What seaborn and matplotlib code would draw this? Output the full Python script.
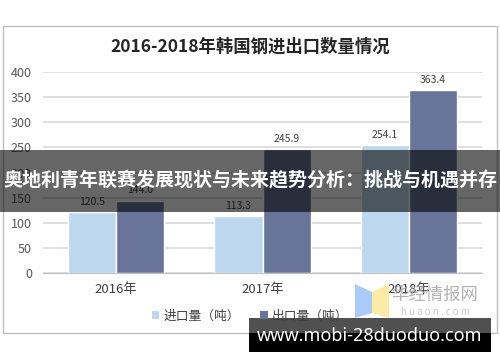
import matplotlib
matplotlib.use("Agg")
from matplotlib import pyplot as plt
from matplotlib.patches import Rectangle, Polygon, Patch
import seaborn as sns
import pandas as pd

years = ["2016年", "2017年", "2018年"]
series = ["进口量（吨）", "出口量（吨）"]
imports = [120.5, 113.3, 254.1]
exports = [144.0, 245.9, 363.4]
colors = ["#BDD7EE", "#687499"]

sns.set_style("white")
plt.rcParams["font.family"] = ["Noto Sans CJK SC", "DejaVu Sans"]

W, H = 500, 362


def fx(x):
    return x / W


def fy(y):
    return 1 - y / H


df = pd.DataFrame({
    "year": years * 2,
    "series": [series[0]] * 3 + [series[1]] * 3,
    "value": imports + exports,
})

fig = plt.figure(figsize=(5, 3.62), dpi=100)
fig.patch.set_facecolor("white")

# outer chart frame
fig.add_artist(Rectangle((fx(3), fy(333)), fx(494), 307 / H, transform=fig.transFigure,
                         fill=False, edgecolor="#BFBFBF", lw=1, zorder=0.5))

ax = fig.add_axes([fx(43), fy(273), fx(439), 201 / H])
sns.barplot(data=df, x="year", y="value", hue="series", palette=colors,
            width=0.66, gap=0, saturation=1, ax=ax, legend=False, zorder=2)

for cont in ax.containers:
    ax.bar_label(cont, padding=4, fontsize=7.5, color="#404040",
                 labels=[f"{v:.1f}" for v in cont.datavalues])

ax.set_ylim(0, 400)
ax.set_xlim(-0.5, 2.5)
ax.set_yticks(range(0, 401, 50))
ax.yaxis.grid(True, color="#D9D9D9", lw=1.2, zorder=0)
ax.set_axisbelow(True)
ax.set_xlabel("")
ax.set_ylabel("")
for s in ["top", "right", "left"]:
    ax.spines[s].set_visible(False)
ax.spines["bottom"].set_color("#BFBFBF")
ax.tick_params(axis="y", length=0, pad=8, labelsize=9, labelcolor="#595959")
ax.tick_params(axis="x", length=0, pad=7, labelsize=9.5, labelcolor="#404040")
ax.set_xticks([-0.5, 0.5, 1.5, 2.5], minor=True)
ax.tick_params(axis="x", which="minor", length=4, color="#BFBFBF")

fig.text(0.5, fy(47), "2016-2018年韩国钢进出口数量情况", ha="center", va="center",
         fontsize=12.5, fontweight="bold", color="#262626")

handles = [Patch(facecolor=c, edgecolor="none") for c in colors]
fig.legend(handles, series, loc="center", bbox_to_anchor=(0.5, fy(316)), ncol=2,
           frameon=False, fontsize=9.2, handlelength=0.6, handleheight=0.6,
           handletextpad=0.3, columnspacing=1.6, labelcolor="#404040")

# huaon logo
fig.add_artist(Polygon([(fx(355), fy(284)), (fx(372), fy(292)), (fx(372), fy(313)),
                        (fx(355), fy(318))], closed=True, transform=fig.transFigure,
                       facecolor="#A9CBF5", edgecolor="none", zorder=3))
fig.add_artist(Polygon([(fx(372), fy(292)), (fx(389), fy(284)), (fx(389), fy(318)),
                        (fx(372), fy(313))], closed=True, transform=fig.transFigure,
                       facecolor="#FCEBA6", edgecolor="none", zorder=3))
fig.text(fx(435), fy(295), "华经情报网", ha="center", va="center", fontsize=12.5,
         color="#A6A6A6", alpha=0.85, zorder=4)
fig.text(fx(435), fy(312), "h u a o n . c o m", ha="center", va="center", fontsize=7,
         color="#C8C8C8", zorder=4)

# overlay banner
fig.add_artist(Rectangle((0, fy(212)), 1, 62 / H, transform=fig.transFigure,
                         facecolor="black", alpha=0.6, edgecolor="none", zorder=5))
fig.text(0.5, fy(181), "奥地利青年联赛发展现状与未来趋势分析：挑战与机遇并存", ha="center",
         va="center", fontsize=13.7, fontweight="bold", color="white", zorder=6)

# watermark box
fig.add_artist(Rectangle((fx(249), fy(333)), fx(242), 15 / H, transform=fig.transFigure,
                         facecolor="#505050", edgecolor="none", zorder=5))
fig.add_artist(Rectangle((fx(249), fy(352)), fx(242), 19 / H, transform=fig.transFigure,
                         facecolor="black", edgecolor="none", zorder=5))
fig.text(fx(370), fy(336), "www.mobi-28duoduo.com", ha="center", va="center",
         fontsize=13, fontweight="bold", color="white", zorder=6,
         family=["Noto Sans", "DejaVu Sans"])

fig.savefig("out.png", dpi=100)
